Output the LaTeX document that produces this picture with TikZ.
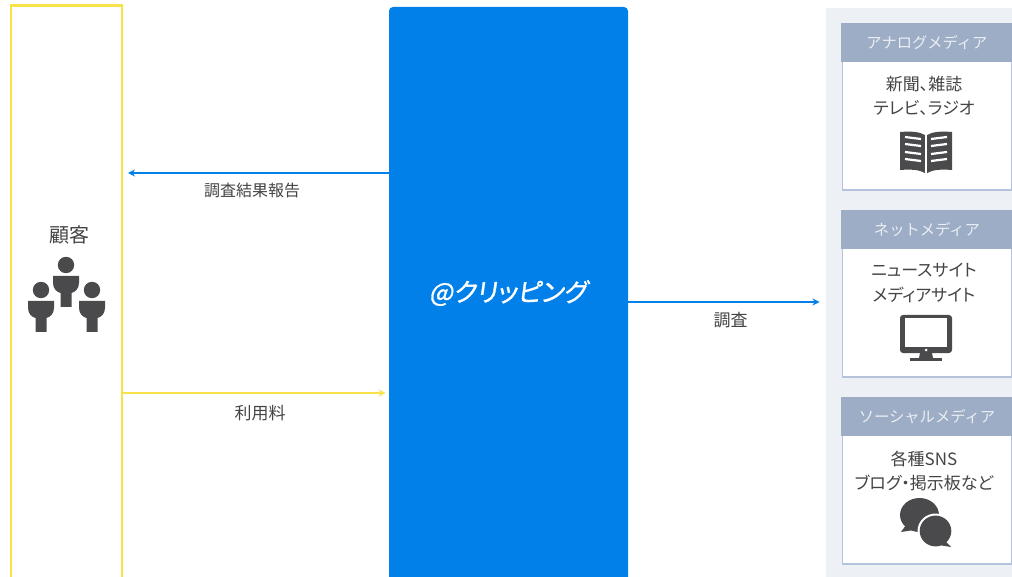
\documentclass[tikz,border=0pt]{standalone}
\usepackage{fontspec}
\setmainfont{Noto Sans CJK JP}
\newfontfamily\palt[RawFeature={+palt}]{Noto Sans CJK JP}
\newfontfamily\logofont[FakeSlant=0.14,FakeBold=1.2,RawFeature={+palt}]{Noto Sans CJK JP}
\usetikzlibrary{arrows.meta}
\definecolor{brand}{HTML}{0080E8}
\definecolor{yel}{HTML}{F7E24A}
\definecolor{panelbg}{HTML}{EDF0F5}
\definecolor{headbg}{HTML}{9DADC6}
\definecolor{cardline}{HTML}{B4C3DB}
\definecolor{ink}{HTML}{4A4A4C}
\definecolor{txt}{HTML}{444444}
\tikzset{
  x=1pt,y=-1pt,
  lbl/.style={text=txt,inner sep=0pt},
  cardtxt/.style={text=txt,font=\palt\fontsize{17}{24.5}\selectfont,inner sep=0pt,align=center},
  headtxt/.style={text=white,font=\fontsize{15.3}{15}\selectfont,inner sep=0pt,opacity=.8},
  card/.style={draw=cardline,line width=1.7pt,fill=white,anchor=north west,minimum width=169pt,minimum height=165.5pt,inner sep=0pt},
  head/.style={fill=headbg,anchor=north west,minimum width=171pt,minimum height=39pt,inner sep=0pt},
  conn/.style={line width=1.5pt,-{Stealth[length=7pt,width=7pt]}},
  icon/.style={fill=ink,draw=none},
}
\newcommand{\person}[2]{%
  \fill[icon] (#1,#2) circle (8.2);
  \fill[icon] (#1-13,#2+11) -- (#1+13,#2+11) -- (#1+13,#2+18)
    .. controls (#1+13,#2+24) and (#1+9,#2+27) .. (#1+5.5,#2+28) -- (#1+5.5,#2+42) -- (#1-5.5,#2+42) -- (#1-5.5,#2+28)
    .. controls (#1-9,#2+27) and (#1-13,#2+24) .. (#1-13,#2+18) -- cycle;
}
\begin{document}
\begin{tikzpicture}
\useasboundingbox (0,0) rectangle (1012,577);
\clip (0,0) rectangle (1012,577);
\fill[white] (0,0) rectangle (1012,577);
% customer
\node[draw=yel,line width=2.4pt,anchor=north west,minimum width=111pt,minimum height=580pt,inner sep=0pt] (customer) at (9.8,4.2) {};
\node[lbl,font=\fontsize{20}{20}\selectfont] (customerlabel) at (69.5,235) {顧客};
\person{66}{265}
\person{41}{290}
\person{92}{290}
% main
\fill[brand,rounded corners=4pt] (389,7) rectangle (628,600);
\node[anchor=north west,minimum width=239pt,minimum height=590pt,inner sep=0pt] (main) at (389,7) {};
\node[text=white,inner sep=0pt,font=\logofont\fontsize{25.5}{25}\selectfont] (mainlabel) at (508,293) {@クリッピング};
% media panel
\fill[panelbg] (826,8) rectangle (1012,577);
\node[anchor=north west,minimum width=186pt,minimum height=569pt,inner sep=0pt] (panel) at (826,8) {};
% card 1
\node[card] (c1) at (841.5,23.5) {};
\node[head] (h1) at (841,23) {};
\node[headtxt] at (927,42.5) {アナログメディア};
\node[cardtxt] (t1) at (924,96) {新聞、雑誌\\テレビ、ラジオ};
% book icon
\begin{scope}[shift={(926,152)}]
\fill[icon] (-26,-20) .. controls (-14,-21) and (-6,-20) .. (-1.2,-17) -- (-1.2,21) .. controls (-6,18) and (-14,17) .. (-26,18) -- cycle;
\fill[icon] (26,-20) .. controls (14,-21) and (6,-20) .. (1.2,-17) -- (1.2,21) .. controls (6,18) and (14,17) .. (26,18) -- cycle;
\foreach \yy in {-14,-7,1,8}{
  \draw[white,line width=2.2pt] (-21,\yy-1) -- (-5,\yy+1);
  \draw[white,line width=2.2pt] (21,\yy-1) -- (5,\yy+1);
}
\end{scope}
% card 2
\node[card] (c2) at (841.5,210.5) {};
\node[head] (h2) at (841,210) {};
\node[headtxt] at (927,229.5) {ネットメディア};
\node[cardtxt] (t2) at (924,283) {ニュースサイト\\メディアサイト};
% monitor icon
\begin{scope}[shift={(926,338)}]
\fill[icon,rounded corners=3pt] (-26,-23) rectangle (26,15);
\fill[white] (-21,-19.5) rectangle (21,9);
\fill[white] (0,12) circle (1.5);
\fill[icon] (-6,15) -- (6,15) -- (7,20) -- (-7,20) -- cycle;
\fill[icon] (-16,20) rectangle (16,23);
\end{scope}
% card 3
\node[card] (c3) at (841.5,397.5) {};
\node[head] (h3) at (841,397) {};
\node[headtxt] at (927,416.5) {ソーシャルメディア};
\node[cardtxt] (t3) at (924,471) {各種SNS\\ブログ・掲示板など};
% bubbles icon
\fill[icon] (919.5,515) ellipse (19.5 and 17);
\fill[icon] (906,525) -- (901,532) -- (914,530) -- cycle;
\fill[white] (935.5,531) ellipse (18 and 17.5);
\fill[icon] (935.5,531) ellipse (15.8 and 15.4);
\fill[icon] (944,540) -- (951,547) -- (939,545) -- cycle;
% connectors
\coordinate (a1) at (128,173);
\coordinate (a2) at (385.5,393);
\coordinate (a3) at (819.5,302);
\draw[conn,brand] (main.west |- a1) -- (a1);
\draw[conn,yel] (customer.east |- a2) -- (a2);
\draw[conn,brand] (main.east |- a3) -- (a3);
% labels
\node[lbl,font=\fontsize{16}{16}\selectfont] (l1) at (252,190) {調査結果報告};
\node[lbl,font=\fontsize{17}{17}\selectfont] (l2) at (260,413) {利用料};
\node[lbl,font=\fontsize{17}{17}\selectfont] (l3) at (730.5,320.5) {調査};
\end{tikzpicture}
\end{document}
